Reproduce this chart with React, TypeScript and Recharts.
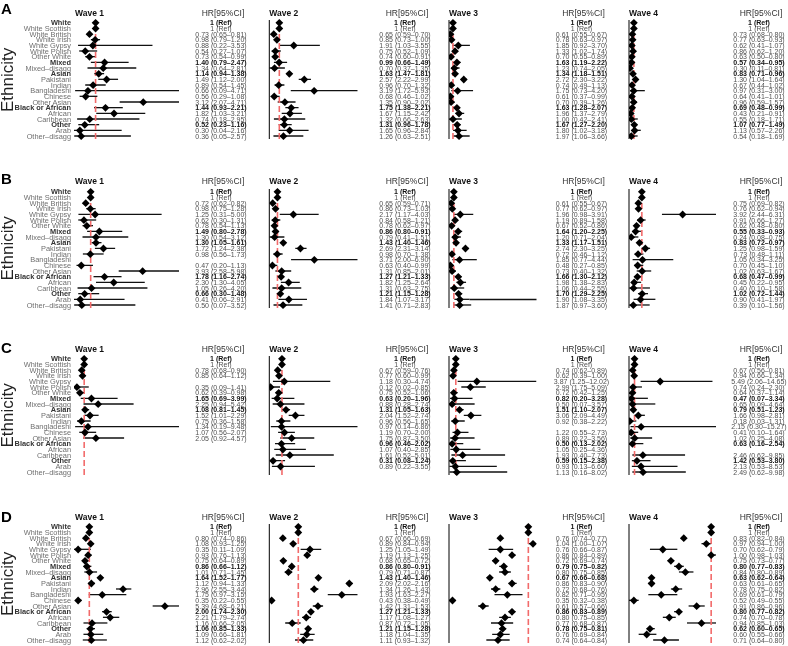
import React from 'react';
import { ComposedChart, Bar, Line, XAxis, YAxis, ReferenceLine } from 'recharts';

type Est = [number, number, number] | 'ref' | null;
const R = 'ref' as const;

const ethnicity = [
  'White', 'White Scottish', 'White British', 'White Irish', 'White Gypsy', 'White Polish', 'Other White',
  'Mixed', 'Mixed–disagg', 'Asian', 'Pakistani', 'Indian', 'Bangladeshi', 'Chinese', 'Other Asian',
  'Black or African', 'African', 'Caribbean', 'Other', 'Arab', 'Other–disagg',
];
const headRows = ['White', 'Mixed', 'Asian', 'Black or African', 'Other'];
const waveTitles = ['Wave 1', 'Wave 2', 'Wave 3', 'Wave 4'];

// [HR, lower, upper] per ethnicity row
const aWave1: Est[] = [R, R, [0.73, 0.65, 0.81], [0.98, 0.79, 1.2], [0.88, 0.22, 3.53], [0.54, 0.27, 1.07], [0.73, 0.54, 0.99], [1.4, 0.79, 2.47], [1.34, 0.64, 2.81], [1.14, 0.94, 1.38], [1.49, 1.12, 2.0], [0.89, 0.54, 1.45], [0.66, 0.09, 4.71], [0.56, 0.29, 1.08], [3.12, 2.07, 4.71], [1.44, 0.93, 2.21], [1.82, 1.03, 3.21], [0.74, 0.18, 2.95], [0.52, 0.23, 1.16], [0.3, 0.04, 2.16], [0.36, 0.05, 2.57]];
const aWave2: Est[] = [R, R, [0.65, 0.59, 0.7], [0.85, 0.73, 1.0], [1.91, 1.03, 3.55], [0.75, 0.52, 1.09], [0.74, 0.6, 0.91], [0.99, 0.66, 1.49], [0.7, 0.37, 1.35], [1.63, 1.47, 1.81], [2.57, 2.22, 2.99], [0.96, 0.7, 1.32], [3.19, 1.72, 5.93], [0.68, 0.46, 1.02], [1.35, 0.9, 2.02], [1.75, 1.38, 2.21], [1.67, 1.15, 2.42], [1.32, 0.66, 2.63], [1.31, 0.96, 1.78], [1.65, 0.96, 2.84], [1.26, 0.63, 2.51]];
const aWave3: Est[] = [R, R, [0.61, 0.55, 0.67], [0.78, 0.63, 0.97], [1.85, 0.92, 3.7], [1.33, 1.02, 1.74], [0.7, 0.55, 0.89], [1.63, 1.19, 2.22], [1.23, 0.74, 2.05], [1.34, 1.18, 1.51], [2.72, 2.3, 3.22], [0.74, 0.49, 1.13], [1.75, 0.73, 4.2], [0.61, 0.37, 0.99], [0.7, 0.39, 1.26], [1.63, 1.28, 2.07], [1.96, 1.37, 2.79], [1.0, 0.42, 2.41], [1.67, 1.27, 2.2], [1.8, 1.02, 3.18], [1.97, 1.06, 3.66]];
const aWave4: Est[] = [R, R, [0.73, 0.68, 0.8], [0.77, 0.63, 0.93], [0.62, 0.41, 1.07], [0.86, 0.62, 1.2], [0.63, 0.5, 0.8], [0.57, 0.34, 0.95], [0.3, 0.11, 0.81], [0.83, 0.71, 0.96], [1.3, 1.04, 1.64], [0.67, 0.44, 1.02], [0.97, 0.31, 3.0], [0.64, 0.41, 1.01], [0.96, 0.59, 1.57], [0.69, 0.48, 0.99], [0.43, 0.21, 0.91], [0.55, 0.18, 1.71], [1.07, 0.77, 1.49], [1.13, 0.57, 2.26], [0.54, 0.18, 1.69]];

const bWave1: Est[] = [R, R, [0.72, 0.62, 0.82], [0.98, 0.75, 1.28], [1.25, 0.31, 5.0], [0.62, 0.3, 1.31], [0.78, 0.54, 1.13], [1.49, 0.8, 2.78], [1.3, 0.54, 3.12], [1.3, 1.05, 1.61], [1.72, 1.24, 2.38], [0.98, 0.56, 1.73], null, [0.47, 0.2, 1.13], [3.93, 2.58, 5.98], [1.78, 1.16, 2.74], [2.3, 1.3, 4.05], [1.05, 0.26, 4.2], [0.66, 0.3, 1.48], [0.41, 0.06, 2.91], [0.5, 0.07, 3.52]];
const bWave2: Est[] = [R, R, [0.65, 0.59, 0.71], [0.86, 0.73, 1.03], [2.17, 1.17, 4.03], [0.84, 0.58, 1.21], [0.78, 0.62, 0.97], [0.86, 0.8, 0.91], [0.79, 0.41, 1.51], [1.43, 1.4, 1.46], [2.69, 2.31, 3.14], [0.98, 0.7, 1.38], [3.71, 2.0, 6.9], [0.63, 0.4, 0.99], [1.31, 0.85, 2.01], [1.27, 1.21, 1.33], [1.82, 1.25, 2.64], [1.31, 0.63, 2.75], [1.21, 1.15, 1.28], [1.84, 1.07, 3.17], [1.41, 0.71, 2.83]];
const bWave3: Est[] = [R, R, [0.61, 0.55, 0.67], [0.77, 0.62, 0.97], [1.96, 0.98, 3.91], [1.19, 0.89, 1.58], [0.67, 0.52, 0.86], [1.64, 1.2, 2.25], [1.2, 0.71, 2.04], [1.33, 1.17, 1.51], [2.74, 2.3, 3.25], [0.72, 0.46, 1.12], [1.85, 0.77, 4.44], [0.48, 0.27, 0.85], [0.73, 0.4, 1.32], [1.66, 1.3, 2.12], [1.98, 1.38, 2.83], [1.06, 0.44, 2.55], [1.7, 1.29, 2.25], [1.9, 1.08, 3.35], [1.87, 0.97, 3.6]];
const bWave4: Est[] = [R, R, [0.75, 0.69, 0.82], [0.76, 0.62, 0.94], [3.92, 2.44, 6.31], [0.91, 0.66, 1.27], [0.62, 0.48, 0.8], [0.55, 0.33, 0.93], [0.24, 0.08, 0.75], [0.83, 0.72, 0.97], [1.25, 0.98, 1.59], [0.73, 0.48, 1.11], [1.05, 0.34, 3.25], [0.7, 0.45, 1.1], [1.02, 0.63, 1.67], [0.68, 0.47, 0.99], [0.45, 0.22, 0.95], [0.4, 0.1, 1.58], [1.02, 0.72, 1.44], [0.9, 0.41, 1.97], [0.39, 0.1, 1.56]];

const cWave1: Est[] = [R, R, [0.78, 0.68, 0.9], [0.85, 0.64, 1.12], null, [0.35, 0.09, 1.41], [0.62, 0.39, 0.98], [1.65, 0.69, 3.99], [2.25, 0.94, 5.42], [1.08, 0.81, 1.45], [1.52, 1.01, 2.29], [0.75, 0.36, 1.58], [1.34, 0.19, 9.48], [1.07, 0.56, 2.07], [2.05, 0.92, 4.57], null, null, null, null, null, null];
const cWave2: Est[] = [R, R, [0.67, 0.59, 0.76], [0.77, 0.6, 0.99], [1.18, 0.3, 4.74], [0.12, 0.02, 0.85], [0.75, 0.52, 1.06], [0.63, 0.2, 1.96], [0.88, 0.28, 2.74], [1.31, 1.05, 1.63], [2.04, 1.52, 2.74], [0.96, 0.56, 1.65], [0.97, 0.14, 6.86], [1.19, 0.7, 2.0], [1.75, 0.87, 3.5], [0.96, 0.46, 2.02], [1.07, 0.4, 2.85], [1.61, 0.52, 5.01], [0.31, 0.08, 1.24], [0.89, 0.22, 3.55], null];
const cWave3: Est[] = [R, R, [0.74, 0.62, 0.89], [0.62, 0.39, 1.0], [3.87, 1.25, 12.02], [2.99, 1.75, 5.09], [0.72, 0.42, 1.25], [0.82, 0.2, 3.28], [0.5, 0.07, 3.57], [1.51, 1.1, 2.07], [3.06, 2.09, 4.49], [0.92, 0.38, 2.22], null, [1.22, 0.55, 2.73], [0.89, 0.22, 3.56], [0.5, 0.13, 2.02], [1.05, 0.25, 4.36], [1.93, 0.4, 7.73], [0.59, 0.15, 2.38], [0.93, 0.13, 6.6], [1.13, 0.16, 8.02]];
const cWave4: Est[] = [R, R, [0.67, 0.56, 0.81], [0.94, 0.66, 1.34], [5.49, 2.06, 14.65], [0.74, 0.24, 2.3], [0.64, 0.37, 1.14], [0.47, 0.07, 3.34], [0.65, 0.09, 4.64], [0.79, 0.51, 1.23], [1.66, 0.98, 2.81], [0.18, 0.03, 1.31], [2.15, 0.3, 15.27], [0.41, 0.1, 1.64], [1.02, 0.25, 4.08], [0.63, 0.16, 2.54], null, [2.46, 0.62, 9.85], [1.42, 0.53, 3.8], [2.13, 0.53, 8.53], [2.49, 0.62, 9.98]];

const dWave1: Est[] = [R, R, [0.8, 0.74, 0.86], [1.08, 0.93, 1.25], [0.35, 0.11, 1.09], [0.93, 0.76, 1.13], [0.75, 0.64, 0.89], [0.86, 0.66, 1.12], [1.01, 0.71, 1.45], [1.64, 1.52, 1.77], [1.12, 0.94, 1.33], [2.96, 2.55, 3.44], [1.75, 0.97, 3.15], [0.35, 0.22, 0.55], [5.39, 4.68, 6.21], [2.0, 1.74, 2.3], [2.21, 1.79, 2.74], [1.16, 0.66, 2.05], [1.06, 0.85, 1.33], [1.09, 0.66, 1.81], [1.12, 0.62, 2.02]];
const dWave2: Est[] = [R, R, [0.67, 0.66, 0.69], [0.89, 0.84, 0.94], [1.25, 1.05, 1.49], [1.19, 1.13, 1.25], [0.68, 0.65, 0.72], [0.86, 0.8, 0.91], [0.79, 0.71, 0.87], [1.43, 1.4, 1.46], [2.09, 2.02, 2.16], [1.34, 1.26, 1.43], [1.93, 1.63, 2.27], [0.43, 0.38, 0.49], [1.42, 1.31, 1.53], [1.27, 1.21, 1.33], [1.17, 1.08, 1.27], [0.87, 0.72, 1.05], [1.21, 1.15, 1.28], [1.18, 1.04, 1.35], [1.11, 0.93, 1.32]];
const dWave3: Est[] = [R, R, [0.76, 0.74, 0.77], [1.04, 1.0, 1.07], [0.76, 0.66, 0.87], [0.86, 0.84, 0.89], [0.72, 0.69, 0.74], [0.79, 0.75, 0.82], [0.8, 0.75, 0.85], [0.67, 0.66, 0.68], [0.86, 0.83, 0.9], [0.72, 0.68, 0.76], [0.82, 0.71, 0.95], [0.35, 0.32, 0.38], [0.61, 0.57, 0.66], [0.86, 0.83, 0.89], [0.8, 0.75, 0.85], [0.77, 0.68, 0.87], [0.78, 0.75, 0.81], [0.76, 0.69, 0.84], [0.74, 0.64, 0.84]];
const dWave4: Est[] = [R, R, [0.83, 0.82, 0.84], [0.97, 0.94, 1.0], [0.7, 0.62, 0.79], [1.0, 0.98, 1.03], [0.75, 0.73, 0.77], [0.8, 0.77, 0.83], [0.84, 0.8, 0.89], [0.63, 0.62, 0.64], [0.63, 0.61, 0.65], [0.78, 0.75, 0.82], [0.69, 0.61, 0.79], [0.52, 0.49, 0.55], [0.91, 0.86, 0.96], [0.8, 0.77, 0.82], [0.74, 0.7, 0.78], [0.94, 0.85, 1.03], [0.62, 0.6, 0.65], [0.6, 0.55, 0.66], [0.71, 0.64, 0.8]];

// x-axis ranges for each wave plot
const aDomains: [number, number][] = [[0.04, 4.71], [0.37, 5.93], [0.37, 14.3], [0.11, 16]];
const bDomains: [number, number][] = [[0.06, 5.98], [0.4, 6.9], [0.27, 13.4], [0.08, 6.31]];
const cDomains: [number, number][] = [[0.09, 9.48], [0.02, 6.86], [0.07, 12.02], [0.03, 15.27]];
const dDomains: [number, number][] = [[0.11, 6.21], [0.38, 2.27], [0.32, 1.07], [0.49, 1.03]];

// stray segment drawn past the Arab row in panel B, wave 3
const bWave3Stray: [number, number] = [3.35, 13.4];

const FONT = '"Liberation Sans", Arial, Helvetica, sans-serif';
const PLOT_H = 119;
const PAD = 2;

const cols = [
  { left: 0, plotL: 74, plotR: 179, right: 252, textX: 221 },
  { left: 252, plotL: 269.3, plotR: 357.7, right: 437, textX: 405 },
  { left: 437, plotL: 449, plotR: 536.5, right: 615, textX: 581.5 },
  { left: 615, plotL: 629, plotR: 716, right: 788, textX: 759 },
];

const panels = [
  { letter: 'A', waves: [aWave1, aWave2, aWave3, aWave4], domains: aDomains, whiteY: 23.3, titleY: 16, letterY: 14 },
  { letter: 'B', waves: [bWave1, bWave2, bWave3, bWave4], domains: bDomains, whiteY: 191.7, titleY: 183.5, letterY: 184 },
  { letter: 'C', waves: [cWave1, cWave2, cWave3, cWave4], domains: cDomains, whiteY: 358.7, titleY: 351.5, letterY: 352.5 },
  { letter: 'D', waves: [dWave1, dWave2, dWave3, dWave4], domains: dDomains, whiteY: 527.3, titleY: 519.5, letterY: 521.5 },
];

const fmt = (v: number) => v.toFixed(2);

function buildRows(est: Est[]) {
  return ethnicity.map((name, i) => {
    const e = est[i];
    const head = headRows.includes(name);
    if (e === 'ref') return { name, head, hr: 1, ci: null, text: '1 (Ref)' };
    if (!e) return { name, head, hr: null, ci: null, text: '' };
    return { name, head, hr: e[0], ci: [e[1], e[2]], text: `${fmt(e[0])} (${fmt(e[1])}–${fmt(e[2])})` };
  });
}

const Diamond = (props: any) => {
  const { cx, cy, payload, index } = props;
  if (payload?.hr == null || cx == null || cy == null) return <g key={`d${index}`} />;
  const s = 3.9;
  return <path key={`d${index}`} d={`M${cx},${cy - s}L${cx + s},${cy}L${cx},${cy + s}L${cx - s},${cy}Z`} fill="#000" />;
};

const WaveChart = ({ est, domain, col, top, first, stray }: any) => {
  const rows = buildRows(est);
  const width = col.right - col.left;
  const labelX = col.plotL - col.left - 3;
  const hrX = col.textX - col.left;

  const labelTick = (p: any) => {
    const row = rows[p.index];
    return (
      <text key={`l${p.index}`} x={labelX} y={p.y} dy={2.6} textAnchor="end" fontSize={7.4} fontFamily={FONT}
        fontWeight={row.head ? 700 : 400} fill={row.head ? '#333333' : '#6e6e6e'}>
        {row.name}
      </text>
    );
  };

  const hrTick = (p: any) => {
    const row = rows[p.index];
    return (
      <text key={`h${p.index}`} x={hrX} y={p.y} dy={2.5} textAnchor="middle" fontSize={7} fontFamily={FONT}
        fontWeight={row.head ? 700 : 400} fill={row.head ? '#111111' : '#505050'}>
        {row.text}
      </text>
    );
  };

  return (
    <div style={{ position: 'absolute', left: col.left, top }}>
      <ComposedChart layout="vertical" width={width} height={PLOT_H + PAD * 2} data={rows}
        margin={{ top: PAD, bottom: PAD, left: 0, right: 0 }}>
        <XAxis type="number" domain={domain} allowDataOverflow hide />
        <YAxis yAxisId="l" type="category" dataKey="name" width={col.plotL - col.left} interval={0}
          tickLine={false} axisLine={first ? false : { stroke: '#000', strokeWidth: 1 }}
          tick={first ? labelTick : false} />
        <YAxis yAxisId="r" orientation="right" type="category" dataKey="name" width={col.right - col.plotR}
          interval={0} tickLine={false} axisLine={false} tick={hrTick} />
        <Bar yAxisId="l" dataKey="ci" barSize={1.3} fill="#111" isAnimationActive={false} />
        <Line yAxisId="l" dataKey="hr" stroke="none" dot={Diamond} activeDot={false} isAnimationActive={false} />
        {stray && (
          <ReferenceLine yAxisId="l" segment={[{ x: stray[0], y: 'Arab' }, { x: stray[1], y: 'Arab' }]}
            stroke="#111" strokeWidth={1.3} />
        )}
        <ReferenceLine yAxisId="l" x={1} stroke="#f26b6b" strokeWidth={1.6} strokeDasharray="6 3" />
      </ComposedChart>
    </div>
  );
};

export default function App() {
  return (
    <div style={{ position: 'absolute', left: 0, top: 0, width: 788, height: 646, background: '#fff', fontFamily: FONT, willChange: 'transform' }}>
      {panels.map((p) =>
        p.waves.map((est, w) => (
          <WaveChart key={`${p.letter}${w}`} est={est} domain={p.domains[w]} col={cols[w]}
            top={p.whiteY - PLOT_H / 42 - PAD} first={w === 0}
            stray={p.letter === 'B' && w === 2 ? bWave3Stray : null} />
        ))
      )}
      <svg width={788} height={646} style={{ position: 'absolute', left: 0, top: 0, pointerEvents: 'none' }}>
        {panels.map((p) => {
          const mid = p.whiteY + (PLOT_H * 20) / 42;
          return (
            <g key={p.letter} fontFamily={FONT}>
              <text x={1} y={p.letterY} fontSize={15} fontWeight={700} fill="#000">{p.letter}</text>
              <text x={13.5} y={mid} fontSize={17} fill="#222" textAnchor="middle" transform={`rotate(-90 13.5 ${mid})`}>
                Ethnicity
              </text>
              {cols.map((c, w) => (
                <g key={w}>
                  <text x={w === 0 ? 75 : c.plotL} y={p.titleY} fontSize={8.5} fontWeight={700} fill="#111">{waveTitles[w]}</text>
                  <text x={c.textX + 2} y={p.titleY} fontSize={8.5} textAnchor="middle" fill="#333">HR[95%CI]</text>
                </g>
              ))}
            </g>
          );
        })}
      </svg>
    </div>
  );
}
